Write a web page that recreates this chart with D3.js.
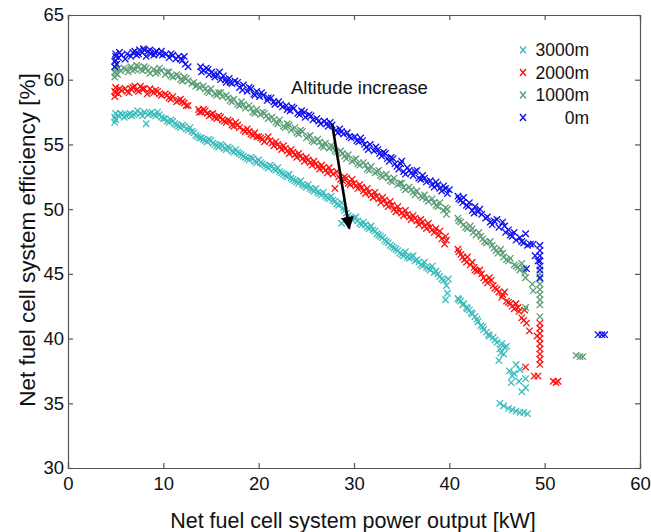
<!DOCTYPE html>
<html>
<head>
<meta charset="utf-8">
<script src="https://cdn.jsdelivr.net/npm/d3@7"></script>
<style>
  body { margin: 0; background: #fff; }
  text { font-family: "Liberation Sans", Arial, Helvetica, sans-serif; fill: #111; }
</style>
</head>
<body>
<div id="chart"></div>
<script>
let w = 651;
let h = 532;
let margin = {left: 68, right: 11, top: 15, bottom: 64};

// altitude series, values as [power kW, efficiency %]
let names = ["3000m", "2000m", "1000m", "0m"];
let colors = ["#3cbcbc", "#ff1010", "#5c9e78", "#1010ee"];

let alt0 = [[4.9,61.0],[4.9,61.4],[5.0,61.8],[5.0,62.0],[5.1,61.2],[5.3,61.7],[5.6,61.9],[6.0,61.6],[6.2,62.0],[6.6,61.8],[7.0,62.2],[7.2,61.9],[7.5,62.3],[7.8,62.1],[8.0,62.3],[8.2,61.8],[8.4,62.2],[8.7,62.0],[9.0,61.9],[9.3,62.2],[9.6,62.0],[9.9,61.9],[10.3,62.0],[10.6,61.7],[11.0,61.9],[11.3,61.6],[11.6,61.8],[12.0,61.5],[12.3,61.2],[12.6,61.0],[13.9,61.0],[14.2,60.7],[14.5,60.9],[14.8,60.4],[15.1,60.6],[15.4,60.2],[15.7,60.4],[16.0,60.0],[16.3,60.3],[16.6,59.8],[16.9,60.1],[17.2,59.7],[17.5,59.9],[18.0,59.4],[18.4,59.6],[18.8,59.1],[19.2,59.3],[19.5,58.9],[19.8,59.1],[20.1,58.7],[20.5,58.8],[20.9,58.4],[21.3,58.6],[21.7,58.1],[22.1,58.3],[22.5,57.9],[22.9,58.0],[23.3,57.6],[23.7,57.8],[24.1,57.4],[24.5,57.6],[24.9,57.1],[25.3,57.3],[25.7,56.9],[26.1,57.0],[26.5,56.6],[26.9,56.8],[27.3,56.4],[27.7,56.5],[28.1,56.1],[28.5,56.2],[28.9,55.8],[29.3,55.9],[29.7,55.5],[30.1,55.6],[30.5,55.2],[30.9,55.3],[31.3,54.8],[31.7,55.0],[32.1,54.5],[32.5,54.6],[32.9,54.1],[33.3,54.3],[33.7,53.7],[34.1,53.9],[34.5,53.3],[34.9,53.5],[35.2,52.9],[35.6,53.2],[36.0,52.8],[36.4,52.9],[36.8,52.4],[37.2,52.6],[37.6,52.1],[38.0,52.2],[38.4,51.7],[38.8,51.9],[39.2,51.4],[39.6,51.6],[39.8,51.2],[40.0,51.5],
  [40.9,51.0],[41.2,50.7],[41.5,50.9],[41.8,50.3],[42.1,50.5],[42.4,49.9],[42.7,50.2],[43.0,49.8],[43.4,49.6],[43.8,49.3],[44.3,49.0],[44.7,49.1],[45.2,48.6],[45.6,49.0],[45.9,48.2],[46.2,48.4],[46.6,47.9],[47.0,47.6],[47.4,47.8],[47.8,47.4],[48.0,48.1],[48.2,47.2],[48.1,45.4],[48.8,47.3],[49.0,46.4],[49.5,47.2],[49.5,46.8],[49.5,46.4],[49.5,46.0],[49.5,45.6],[49.5,45.3],[49.5,44.7],[55.6,40.3],[56.0,40.3],[56.3,40.3]];
let alt0b = [[5.0,61.5],[5.4,62.1],[6.8,62.1],[7.4,62.0],[7.9,62.4],[8.6,62.3],[9.1,62.1],[9.8,62.2],[10.8,62.0],[11.8,61.6],[12.2,61.8],[14.0,60.6],[14.7,60.8],[15.3,60.4],[15.9,60.6],[16.5,60.0],[17.0,59.8],[17.8,59.8],[18.3,59.2],[19.0,59.4],[19.6,58.8],[20.3,59.0],[21.0,58.6],[21.6,58.3],[22.3,58.1],[23.0,57.7],[23.5,57.9],[24.3,57.3],[24.8,57.5],[25.5,57.2],[26.3,56.8],[27.1,56.6],[27.5,56.7],[28.3,55.9],[28.7,56.0],[29.5,55.6],[30.3,55.3],[30.7,55.5],[31.1,55.0],[31.5,54.6],[32.3,54.8],[32.7,54.3],[33.1,54.4],[33.5,53.9],[33.9,54.0],[34.3,53.5],[34.7,53.1],[35.0,53.7],[35.4,52.7],[35.8,53.0],[36.2,52.6],[36.6,53.0],[37.0,52.3],[37.4,52.4],[38.2,51.9],[38.6,52.1],[39.0,51.6],[39.4,51.8],
  [41.0,50.8],[41.4,50.5],[42.0,50.2],[42.6,49.7],[43.2,50.0],[44.0,49.4],[44.5,48.8],[45.0,49.2],[45.8,48.7],[46.4,48.0],[46.8,48.2],[47.6,47.5],[48.5,47.3],[49.3,46.0]];

let alt1000 = [[4.9,60.2],[4.9,60.6],[5.0,60.9],[5.2,60.4],[5.5,60.7],[5.9,60.9],[6.3,60.6],[6.6,61.0],[7.0,60.8],[7.4,61.0],[7.8,60.7],[8.2,60.9],[8.6,60.5],[9.0,60.8],[9.4,60.6],[9.8,60.7],[10.2,60.4],[10.6,60.6],[11.0,60.2],[11.4,60.4],[11.8,60.0],[12.2,60.2],[12.6,59.9],[13.0,59.7],[13.4,59.5],[13.8,59.4],[14.2,59.5],[14.6,59.1],[15.0,59.3],[15.4,58.9],[15.8,59.0],[16.2,58.7],[16.6,58.8],[17.0,58.4],[17.4,58.5],[17.8,58.1],[18.2,58.3],[18.6,57.8],[19.0,58.0],[19.4,57.5],[19.8,57.7],[20.2,57.3],[20.6,57.4],[21.0,57.0],[21.4,57.1],[21.8,56.7],[22.2,56.9],[22.6,56.4],[23.0,56.6],[23.4,56.1],[23.8,56.3],[24.2,55.8],[24.6,56.0],[25.0,55.5],[25.4,55.7],[25.8,55.2],[26.2,55.4],[26.6,54.9],[27.0,55.1],[27.4,54.7],[27.8,54.8],[28.2,54.4],[28.6,54.5],[29.0,54.1],[29.4,54.2],[29.8,53.7],[30.2,53.9],[30.6,53.4],[31.0,53.6],[31.4,53.1],[31.8,53.3],[32.2,52.8],[32.6,53.0],[33.0,52.5],[33.4,52.7],[33.8,52.2],[34.2,52.4],[34.6,51.9],[35.0,52.0],[35.4,51.5],[35.8,51.7],[36.2,51.3],[36.6,51.4],[37.0,51.0],[37.4,51.1],[37.8,50.6],[38.2,50.8],[38.6,50.3],[39.0,50.5],[39.4,49.9],[39.7,49.6],[39.8,50.0],
  [40.9,49.3],[41.2,49.0],[41.5,48.8],[41.9,48.5],[42.2,48.7],[42.5,48.2],[42.8,48.0],[43.1,48.2],[43.5,47.7],[43.9,47.4],[44.3,47.5],[44.7,47.0],[45.1,46.6],[45.4,46.9],[45.7,46.3],[46.0,46.1],[46.4,46.2],[46.8,45.7],[47.2,45.5],[47.6,45.8],[47.9,45.1],[48.0,44.7],[48.0,42.4],[48.7,44.2],[48.8,43.7],[49.5,45.0],[49.5,44.6],[49.5,44.2],[49.5,43.8],[49.5,43.4],[49.5,43.0],[49.5,42.6],[49.5,41.7],[53.3,38.7],[53.7,38.6],[54.0,38.6]];
let alt1000b = [[5.0,60.5],[5.3,60.9],[6.1,60.8],[6.8,60.7],[7.2,61.1],[7.6,60.8],[8.0,61.0],[8.4,60.7],[9.2,60.5],[9.6,60.9],[10.4,60.6],[10.8,60.3],[11.6,60.3],[12.0,59.9],[12.4,60.1],[13.2,59.8],[13.6,59.6],[14.4,59.3],[14.8,59.0],[15.6,58.8],[16.0,59.0],[16.8,58.6],[17.2,58.3],[18.0,58.0],[18.4,58.1],[19.2,57.8],[19.6,57.4],[20.4,57.5],[20.8,57.2],[21.6,56.9],[22.0,56.6],[22.8,56.3],[23.2,56.5],[24.0,55.9],[24.4,56.1],[25.2,55.6],[25.6,55.3],[26.4,55.2],[26.8,54.8],[27.6,54.9],[28.0,54.5],[28.8,54.3],[29.2,53.9],[30.0,53.8],[30.4,53.5],[31.2,53.4],[31.6,53.0],[32.4,52.9],[32.8,52.6],[33.6,52.4],[34.0,52.1],[34.8,52.0],[35.2,51.7],[36.0,51.5],[36.4,51.1],[37.2,50.9],[37.6,50.8],[38.4,50.5],[38.8,50.2],[39.6,50.1],
  [41.0,49.1],[41.7,48.6],[42.4,48.5],[43.3,47.9],[43.7,47.5],[44.5,47.2],[44.9,46.8],[45.6,46.6],[46.2,46.0],[47.0,45.6],[47.4,45.3],[47.8,45.4]];

let alt2000 = [[4.9,58.7],[4.9,59.1],[5.0,59.4],[5.3,58.9],[5.6,59.2],[6.0,59.3],[6.4,59.0],[6.8,59.4],[7.2,59.2],[7.6,59.5],[8.0,59.3],[8.3,58.9],[8.6,59.3],[9.0,59.0],[9.4,59.1],[9.8,58.8],[10.2,58.9],[10.6,58.6],[11.0,58.7],[11.4,58.3],[11.8,58.5],[12.2,58.2],[12.6,58.0],[13.7,57.7],[14.0,57.5],[14.4,57.6],[14.8,57.2],[15.2,57.4],[15.6,57.0],[16.0,57.1],[16.4,56.8],[16.8,56.9],[17.2,56.5],[17.6,56.7],[18.0,56.3],[18.4,56.1],[18.8,56.2],[19.2,55.8],[19.6,55.9],[20.0,55.6],[20.4,55.4],[21.0,55.6],[21.4,55.1],[21.8,55.2],[22.2,54.8],[22.6,54.9],[23.0,54.5],[23.4,54.6],[23.8,54.2],[24.2,54.3],[24.6,53.9],[25.0,54.0],[25.4,53.6],[25.8,53.7],[26.2,53.3],[26.6,53.4],[27.0,53.0],[27.4,53.2],[27.8,52.7],[28.2,52.9],[28.6,52.3],[29.0,52.5],[29.4,52.0],[29.8,52.3],[30.2,51.8],[30.6,51.9],[31.0,51.4],[31.4,51.6],[31.8,51.1],[32.2,51.3],[32.6,50.8],[33.0,50.9],[33.4,50.4],[33.8,50.6],[34.2,50.0],[34.6,50.2],[35.0,49.7],[35.4,49.9],[35.8,49.4],[36.2,49.5],[36.6,49.1],[37.0,49.2],[37.4,48.7],[37.8,48.9],[38.2,48.4],[38.6,48.5],[38.9,48.0],[39.2,47.7],[39.5,47.3],[39.7,47.6],[28.0,51.6],
  [40.9,46.9],[41.2,46.5],[41.6,46.1],[41.9,46.3],[42.2,45.7],[42.6,45.5],[42.9,45.2],[43.2,45.3],[43.6,44.7],[44.0,44.3],[44.4,44.5],[44.8,43.9],[45.2,43.6],[45.5,43.2],[45.8,43.6],[46.2,42.8],[46.6,42.5],[47.0,42.7],[47.3,42.1],[47.6,41.6],[47.9,42.2],[48.1,41.2],[48.4,40.6],[49.2,40.2],[49.5,41.2],[49.5,40.8],[49.5,40.4],[49.5,40.0],[49.5,39.6],[49.5,39.2],[49.5,38.8],[49.5,38.4],[49.5,38.0],[48.0,37.8],[48.9,37.1],[49.3,37.1],[50.9,36.7],[51.2,36.6],[51.4,36.7]];
let alt2000b = [[5.0,59.0],[5.4,59.3],[6.2,59.1],[6.6,59.3],[7.0,59.5],[7.4,59.1],[7.8,59.3],[8.8,59.1],[9.2,59.2],[9.6,58.9],[10.4,58.8],[10.8,58.5],[11.6,58.4],[12.0,58.3],[12.4,58.0],[13.8,57.5],[14.2,57.7],[14.6,57.4],[15.0,57.3],[15.4,57.1],[15.8,57.2],[16.2,56.9],[16.6,56.7],[17.0,56.8],[17.4,56.4],[17.8,56.5],[18.6,56.0],[19.0,56.0],[19.4,55.7],[19.8,55.6],[20.2,55.5],[20.6,55.2],[21.2,55.3],[21.6,54.9],[22.0,55.0],[22.4,54.6],[22.8,54.7],[23.2,54.3],[23.6,54.4],[24.0,54.0],[24.4,54.1],[24.8,53.7],[25.2,53.8],[25.6,53.4],[26.0,53.5],[26.4,53.1],[26.8,53.2],[27.2,52.8],[27.6,52.9],[28.4,52.5],[28.8,52.2],[29.2,52.4],[29.6,51.9],[30.0,52.0],[30.4,51.6],[30.8,51.7],[31.2,51.2],[31.6,51.3],[32.0,50.9],[32.4,51.0],[32.8,50.5],[33.2,50.7],[33.6,50.2],[34.0,50.3],[34.4,49.8],[34.8,49.9],[35.2,49.5],[35.6,49.6],[36.0,49.2],[36.4,49.3],[36.8,48.8],[37.2,49.0],[37.6,48.5],[38.0,48.6],[38.4,48.2],[39.0,48.3],[39.6,47.9],
  [41.0,46.7],[41.4,46.3],[41.8,45.9],[42.4,45.9],[42.7,45.3],[43.4,45.0],[43.8,44.5],[44.2,44.7],[44.6,44.1],[45.0,43.8],[45.6,43.4],[46.0,42.9],[46.4,42.7],[46.8,42.3],[47.2,42.4],[47.8,41.4]];

let alt3000 = [[4.9,56.7],[4.9,57.1],[5.0,57.4],[5.3,57.2],[5.7,57.3],[6.1,57.2],[6.5,57.4],[6.9,57.3],[7.3,57.6],[7.6,57.4],[8.0,57.5],[8.2,56.6],[8.4,57.3],[8.8,57.5],[9.2,57.2],[9.6,57.3],[10.0,57.0],[10.4,56.8],[10.8,56.9],[11.2,56.6],[11.6,56.4],[12.0,56.5],[12.4,56.2],[12.8,56.3],[13.2,55.9],[13.6,55.6],[14.0,55.5],[14.4,55.3],[14.8,55.4],[15.2,55.1],[15.6,54.9],[16.0,55.0],[16.4,54.7],[16.8,54.8],[17.2,54.5],[17.6,54.6],[18.0,54.3],[18.4,54.1],[18.8,53.9],[19.2,54.0],[19.6,53.7],[20.0,53.8],[20.4,53.5],[20.8,53.3],[21.2,53.4],[21.6,53.1],[22.0,53.2],[22.4,52.8],[22.8,52.6],[23.2,52.7],[23.6,52.3],[24.0,52.1],[24.4,52.2],[24.8,51.8],[25.2,51.9],[25.6,51.5],[26.0,51.6],[26.4,51.2],[26.8,51.3],[27.2,50.9],[27.6,51.0],[28.0,50.6],[28.4,50.3],[28.7,50.5],[29.0,49.9],[28.7,48.9],[29.4,49.5],[29.8,49.2],[30.2,49.4],[30.6,48.9],[31.0,49.0],[31.4,48.6],[31.8,48.7],[32.2,48.3],[32.6,48.0],[33.0,47.8],[33.4,47.5],[33.8,47.2],[34.2,47.0],[34.6,46.8],[35.0,46.5],[35.4,46.7],[35.8,46.2],[36.2,46.4],[36.6,46.1],[37.0,45.7],[37.4,45.9],[37.8,45.4],[38.2,45.6],[38.6,45.2],[39.0,44.8],[39.4,44.5],[39.7,44.1],[39.9,44.6],[39.8,43.5],[39.6,43.0],
  [40.9,43.1],[41.2,42.9],[41.5,42.7],[41.8,42.4],[42.1,42.2],[42.4,41.9],[42.7,41.7],[43.0,41.3],[43.3,41.0],[43.6,40.7],[43.9,40.5],[44.2,40.2],[44.6,40.1],[45.0,39.7],[45.3,39.2],[45.2,38.3],[45.5,39.6],[45.7,38.8],[46.0,39.4],[46.3,37.5],[46.5,36.6],[46.8,37.3],[47.0,38.0],[47.4,37.6],[47.3,36.7],[47.6,35.9],[48.0,36.2],[48.0,36.9],[45.3,35.0],[45.7,34.8],[46.2,34.6],[46.6,34.5],[47.0,34.4],[47.4,34.3],[47.8,34.3],[48.2,34.2]];
let alt3000b = [[5.0,56.9],[5.5,57.4],[5.9,57.1],[6.3,57.3],[6.7,57.2],[7.1,57.4],[7.8,57.2],[8.6,57.4],[9.0,57.3],[9.4,57.5],[9.8,57.1],[10.2,57.0],[10.6,56.7],[11.0,56.8],[11.4,56.5],[11.8,56.3],[12.2,56.4],[12.6,56.1],[13.0,56.0],[13.4,55.7],[13.8,55.5],[14.2,55.4],[14.6,55.2],[15.0,55.3],[15.4,55.0],[15.8,54.8],[16.2,54.9],[16.6,54.6],[17.0,54.7],[17.4,54.4],[17.8,54.4],[18.2,54.2],[18.6,54.0],[19.0,53.8],[19.4,53.9],[19.8,53.6],[20.2,53.6],[20.6,53.4],[21.0,53.2],[21.4,53.3],[21.8,53.0],[22.2,52.9],[22.6,52.7],[23.0,52.5],[23.4,52.4],[23.8,52.2],[24.2,52.0],[24.6,51.9],[25.0,51.7],[25.4,51.6],[25.8,51.4],[26.2,51.3],[26.6,51.1],[27.0,51.0],[27.4,50.8],[27.8,50.7],[28.2,50.4],[28.9,50.1],[29.2,49.7],[29.6,49.3],[30.0,49.3],[30.4,49.1],[30.8,48.8],[31.2,48.8],[31.6,48.5],[32.0,48.4],[32.4,48.1],[32.8,47.9],[33.2,47.6],[33.6,47.4],[34.0,47.1],[34.4,46.9],[34.8,46.6],[35.2,46.4],[35.6,46.3],[36.0,46.3],[36.4,46.0],[36.8,45.9],[37.2,45.6],[37.6,45.5],[38.0,45.3],[38.4,45.1],[38.8,45.0],[39.2,44.6],
  [41.0,43.0],[41.4,42.6],[41.9,42.3],[42.3,42.0],[42.9,41.5],[43.5,40.9],[44.1,40.3],[44.8,39.9],[45.4,38.9],[45.8,39.3],[46.6,37.1]];

let series = [alt3000.concat(alt3000b), alt2000.concat(alt2000b), alt1000.concat(alt1000b), alt0.concat(alt0b)];

let xTicks = [0, 10, 20, 30, 40, 50, 60];
let yTicks = [30, 35, 40, 45, 50, 55, 60, 65];

// annotation arrow, in data units
let arrowFrom = [27.7, 56.6];
let arrowTo = [29.5, 48.5];

let svg = d3.select("#chart")
            .append("svg")
            .attr("width", w)
            .attr("height", h);

let x = d3.scaleLinear().domain([0, 60]).range([margin.left, w - margin.right]);
let y = d3.scaleLinear().domain([30, 65]).range([h - margin.bottom, margin.top]);

let frameColor = "#555";

// ticks on all four sides, pointing inward
let axes = [
  {ax: d3.axisBottom(x).tickValues(xTicks).tickSize(-5).tickPadding(9), t: `translate(0,${y(30)})`, lab: true},
  {ax: d3.axisTop(x).tickValues(xTicks).tickSize(-5), t: `translate(0,${y(65)})`, lab: false},
  {ax: d3.axisLeft(y).tickValues(yTicks).tickSize(-5).tickPadding(4), t: `translate(${x(0)},0)`, lab: true},
  {ax: d3.axisRight(y).tickValues(yTicks).tickSize(-5), t: `translate(${x(60)},0)`, lab: false}
];
axes.forEach(a => {
  let g = svg.append("g").attr("transform", a.t).call(a.ax);
  g.select(".domain").attr("stroke", frameColor).attr("stroke-width", 1.2);
  g.selectAll(".tick line").attr("stroke", frameColor).attr("stroke-width", 1.2);
  if (a.lab) {
    g.selectAll(".tick text").attr("font-size", 18.5).attr("fill", "#111")
      .attr("font-family", '"Liberation Sans", Arial, sans-serif');
  } else {
    g.selectAll(".tick text").remove();
  }
});

let cross = "M-3.2,-3.2L3.2,3.2M-3.2,3.2L3.2,-3.2";

series.forEach((pts, i) => {
  svg.append("g")
    .selectAll("path")
    .data(pts)
    .enter()
    .append("path")
    .attr("d", cross)
    .attr("transform", d => `translate(${x(d[0])},${y(d[1])})`)
    .attr("stroke", colors[i])
    .attr("stroke-width", 1.3)
    .attr("fill", "none");
});

// arrow
svg.append("defs").append("marker")
  .attr("id", "head")
  .attr("viewBox", "0 0 10 10")
  .attr("refX", 9).attr("refY", 5)
  .attr("markerWidth", 5).attr("markerHeight", 9)
  .attr("markerUnits", "strokeWidth")
  .attr("orient", "auto")
  .append("path")
  .attr("d", "M0,0L10,5L0,10Z")
  .attr("fill", "#000");

svg.append("line")
  .attr("x1", x(arrowFrom[0])).attr("y1", y(arrowFrom[1]))
  .attr("x2", x(arrowTo[0])).attr("y2", y(arrowTo[1]))
  .attr("stroke", "#000")
  .attr("stroke-width", 2.6)
  .attr("marker-end", "url(#head)");

svg.append("text")
  .text("Altitude increase")
  .attr("x", 291).attr("y", 94)
  .attr("font-size", 18.5);

// legend
let legend = svg.append("g");
names.forEach((n, i) => {
  let ly = 50 + i * 22.5;
  legend.append("path")
    .attr("d", "M-3,-3.5L3,3.5M-3,3.5L3,-3.5")
    .attr("transform", `translate(523,${ly})`)
    .attr("stroke", colors[i])
    .attr("stroke-width", 1.4)
    .attr("fill", "none");
  legend.append("text")
    .text(n)
    .attr("x", 589).attr("y", ly + 6)
    .attr("text-anchor", "end")
    .attr("font-size", 17.5);
});

// axis titles
svg.append("text")
  .text("Net fuel cell system power output [kW]")
  .attr("x", 353).attr("y", 528)
  .attr("text-anchor", "middle")
  .attr("font-size", 21.5);

svg.append("text")
  .text("Net fuel cell system efficiency [%]")
  .attr("transform", "translate(35,240) rotate(-90)")
  .attr("text-anchor", "middle")
  .attr("font-size", 22.5);
</script>
</body>
</html>
